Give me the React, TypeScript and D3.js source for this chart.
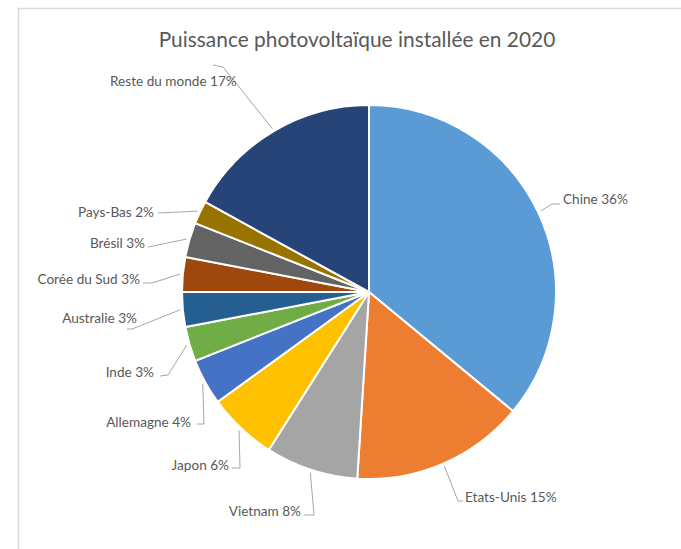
import React from "react";
import * as d3 from "d3";

const title = "Puissance photovoltaïque installée en 2020";
const countries = ["Chine", "Etats-Unis", "Vietnam", "Japon", "Allemagne", "Inde", "Australie", "Corée du Sud", "Brésil", "Pays-Bas", "Reste du monde"];
const shares = [36, 15, 8, 6, 4, 3, 3, 3, 3, 2, 17];
const colors = ["#5B9BD5", "#ED7D31", "#A5A5A5", "#FFC000", "#4472C4", "#70AD47", "#255E91", "#9E480E", "#636363", "#997300", "#264478"];

// label layout: text anchor point, text-anchor, leader elbow & end points
const labelLayout: { tx: number; ty: number; anchor: "start" | "end"; pts: [number, number][] }[] = [
  { tx: 563, ty: 199, anchor: "start", pts: [[552, 204], [560, 204]] },
  { tx: 465, ty: 497, anchor: "start", pts: [[458, 501], [463, 501]] },
  { tx: 301, ty: 511, anchor: "end", pts: [[314, 515], [304, 515]] },
  { tx: 229, ty: 465, anchor: "end", pts: [[240, 468], [232, 468]] },
  { tx: 191, ty: 422, anchor: "end", pts: [[204, 424], [197, 424]] },
  { tx: 154, ty: 372, anchor: "end", pts: [[168, 375], [160, 376]] },
  { tx: 137, ty: 318, anchor: "end", pts: [[132, 329], [127, 329]] },
  { tx: 140, ty: 279, anchor: "end", pts: [[152, 283], [143, 283]] },
  { tx: 145, ty: 243, anchor: "end", pts: [[148, 247]] },
  { tx: 154, ty: 212, anchor: "end", pts: [[158, 213]] },
  { tx: 110, ty: 81, anchor: "start", pts: [[223, 67], [213, 65]] },
];

const W = 681;
const H = 549;
const cx = 369;
const cy = 292;
const R = 187;

export default function App() {
  const data = countries.map((c, i) => ({ name: c, value: shares[i], color: colors[i] }));
  const pie = d3.pie<{ name: string; value: number; color: string }>().value((d) => d.value).sort(null);
  const arcs = pie(data);
  const arc = d3.arc<d3.PieArcDatum<any>>().innerRadius(0).outerRadius(R);
  const line = d3.line();
  const font = "Lato, 'Open Sans', sans-serif";

  return (
    <svg width={W} height={H} style={{ position: "absolute", left: 0, top: 0, background: "#fff" }}>
      <rect x={18.5} y={8.5} width={W} height={H} fill="#fff" stroke="#d9d9d9" strokeWidth={1.5} />
      <text x={357} y={38} textAnchor="middle" dominantBaseline="central" fontFamily={font} fontSize={20.9} fill="#595959">
        {title}
      </text>
      <g transform={`translate(${cx},${cy})`}>
        {arcs.map((a, i) => (
          <path key={i} d={arc(a) || ""} fill={a.data.color} stroke="#fff" strokeWidth={2} />
        ))}
      </g>
      {arcs.map((a, i) => {
        const mid = (a.startAngle + a.endAngle) / 2;
        const r0 = R * 1.015;
        const sx = cx + r0 * Math.sin(mid);
        const sy = cy - r0 * Math.cos(mid);
        const L = labelLayout[i];
        const pts: [number, number][] = [[sx, sy], ...L.pts];
        return (
          <g key={i}>
            <path d={line(pts) || ""} fill="none" stroke="#a6a6a6" strokeWidth={1} />
            <text x={L.tx} y={L.ty} textAnchor={L.anchor} dominantBaseline="central" fontFamily={font} fontSize={13.6} fill="#595959">
              {`${a.data.name} ${a.data.value}%`}
            </text>
          </g>
        );
      })}
    </svg>
  );
}
